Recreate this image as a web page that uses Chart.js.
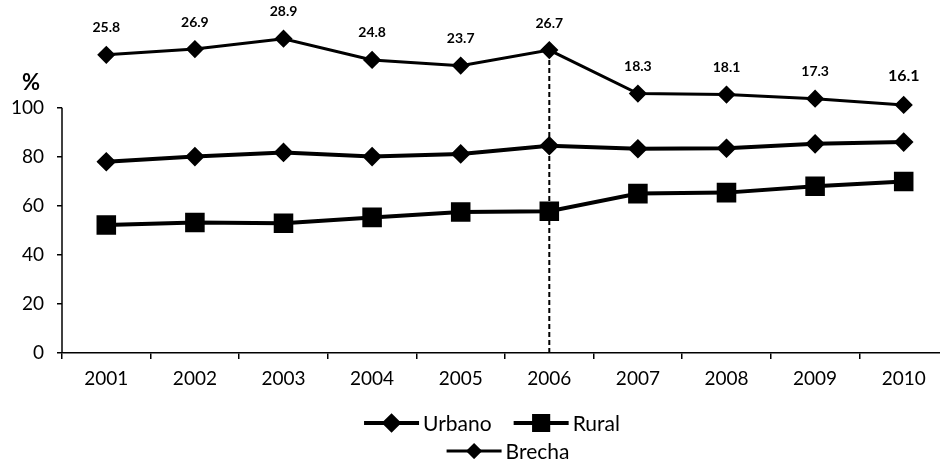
<!DOCTYPE html>
<html lang="es">
<head>
<meta charset="UTF-8">
<title>Urbano, Rural y Brecha</title>
<script src="https://cdn.jsdelivr.net/npm/chart.js"></script>
<style>
    html, body {
        margin: 0;
        padding: 0;
        background: #fff;
        overflow: hidden;
    }
</style>
</head>
<body>
<canvas id="brechaChart" width="963" height="459"></canvas>
<script>
    // data
    const years = ['2001', '2002', '2003', '2004', '2005', '2006', '2007', '2008', '2009', '2010'];
    const urbano = [78.0, 80.1, 81.8, 80.1, 81.2, 84.5, 83.3, 83.5, 85.3, 86.0];
    const rural = [52.2, 53.2, 52.9, 55.3, 57.5, 57.8, 65.0, 65.4, 68.0, 69.9];
    const brecha = [25.8, 26.9, 28.9, 24.8, 23.7, 26.7, 18.3, 18.1, 17.3, 16.1];
    const yTicks = [0, 20, 40, 60, 80, 100];
    const markedYear = '2006';

    const FONT = 'Lato, "Open Sans", sans-serif';
    const INK = '#000';

    // y axis line (only 0-100) and dashed marker line, under the series
    const underlay = {
        id: 'underlay',
        beforeDatasetsDraw(chart) {
            const ctx = chart.ctx;
            const y = chart.scales.y;
            const left = chart.chartArea.left;
            ctx.save();
            ctx.strokeStyle = INK;
            ctx.lineWidth = 1.5;
            ctx.beginPath();
            ctx.moveTo(left, y.getPixelForValue(yTicks[0]));
            ctx.lineTo(left, y.getPixelForValue(yTicks[yTicks.length - 1]));
            ctx.stroke();

            const i = years.indexOf(markedYear);
            const px = chart.scales.x.getPixelForValue(i);
            ctx.setLineDash([5, 3]);
            ctx.lineWidth = 2;
            ctx.beginPath();
            ctx.moveTo(px, y.getPixelForValue(0));
            ctx.lineTo(px, chart.scales.y2.getPixelForValue(brecha[i]));
            ctx.stroke();
            ctx.restore();
        }
    };

    // value labels on the gap line, "%" label and the legend
    const extras = {
        id: 'extras',
        afterDraw(chart) {
            const ctx = chart.ctx;
            const area = chart.chartArea;
            const meta = chart.getDatasetMeta(2);
            ctx.save();
            ctx.fillStyle = INK;
            ctx.textAlign = 'center';
            ctx.textBaseline = 'middle';
            meta.data.forEach((pt, k) => {
                const last = k === brecha.length - 1;
                ctx.font = 'bold ' + (last ? 16 : 14) + 'px ' + FONT;
                ctx.fillText(brecha[k].toFixed(1), pt.x, pt.y - (last ? 29 : 27));
            });

            ctx.font = 'bold 22px ' + FONT;
            ctx.fillText('%', area.left - 31, chart.scales.y.getPixelForValue(100) - 25);

            // legend, roughly centred under the plot area
            ctx.font = '21px ' + FONT;
            ctx.textAlign = 'left';
            const cx = (area.left + area.right) / 2;
            const row1 = [
                { text: 'Urbano', style: 'rectRot', r: 7, lw: 4 },
                { text: 'Rural', style: 'rect', r: 10, lw: 4 }
            ];
            const row2 = [{ text: 'Brecha', style: 'rectRot', r: 6, lw: 3 }];
            const lineW = 55, gap = 4, itemGap = 22;
            const drawRow = (items, y, shift) => {
                const widths = items.map(it => lineW + gap + ctx.measureText(it.text).width);
                const total = widths.reduce((a, b) => a + b, 0) + itemGap * (items.length - 1);
                let x = cx + shift - total / 2;
                items.forEach((it, k) => {
                    ctx.strokeStyle = INK;
                    ctx.lineWidth = it.lw;
                    ctx.beginPath();
                    ctx.moveTo(x, y);
                    ctx.lineTo(x + lineW, y);
                    ctx.stroke();
                    Chart.helpers.drawPoint(ctx, { pointStyle: it.style, radius: it.r, borderWidth: 1, rotation: 0 }, x + lineW / 2, y);
                    ctx.fillText(it.text, x + lineW + gap, y + 1);
                    x += widths[k] + itemGap;
                });
            };
            drawRow(row1, area.bottom + 70, -13);
            drawRow(row2, area.bottom + 98, 3);
            ctx.restore();
        }
    };

    const ctx = document.getElementById('brechaChart').getContext('2d');
    new Chart(ctx, {
        type: 'line',
        data: {
            labels: years,
            datasets: [
                {
                    label: 'Urbano',
                    data: urbano,
                    borderColor: INK,
                    backgroundColor: INK,
                    borderWidth: 4,
                    pointStyle: 'rectRot',
                    pointRadius: 7,
                    yAxisID: 'y'
                },
                {
                    label: 'Rural',
                    data: rural,
                    borderColor: INK,
                    backgroundColor: INK,
                    borderWidth: 4,
                    pointStyle: 'rect',
                    pointRadius: 11,
                    yAxisID: 'y'
                },
                {
                    label: 'Brecha',
                    data: brecha,
                    borderColor: INK,
                    backgroundColor: INK,
                    borderWidth: 3,
                    pointStyle: 'rectRot',
                    pointRadius: 7,
                    yAxisID: 'y2'
                }
            ]
        },
        options: {
            responsive: false,
            animation: false,
            layout: { padding: { top: 10, right: 3, left: 0, bottom: 0 } },
            plugins: {
                legend: { display: false },
                tooltip: { enabled: false }
            },
            scales: {
                x: {
                    offset: true,
                    grid: { offset: true, drawOnChartArea: false, tickLength: 6, color: INK, lineWidth: 1.5 },
                    border: { color: INK, width: 1.5 },
                    ticks: { color: INK, font: { family: FONT, size: 19 }, padding: 8, maxRotation: 0 },
                    afterFit: s => { s.height = 106; }
                },
                y: {
                    min: 0,
                    max: 134,
                    afterBuildTicks: s => { s.ticks = yTicks.map(v => ({ value: v })); },
                    grid: { drawOnChartArea: false, tickLength: 5, color: INK, lineWidth: 1.5 },
                    border: { display: false },
                    ticks: { color: INK, font: { family: FONT, size: 19 }, padding: 13 },
                    afterFit: s => { s.width = 62; }
                },
                y2: {
                    display: false,
                    min: -31.86,
                    max: 31.67
                }
            }
        },
        plugins: [underlay, extras]
    });
</script>
</body>
</html>
